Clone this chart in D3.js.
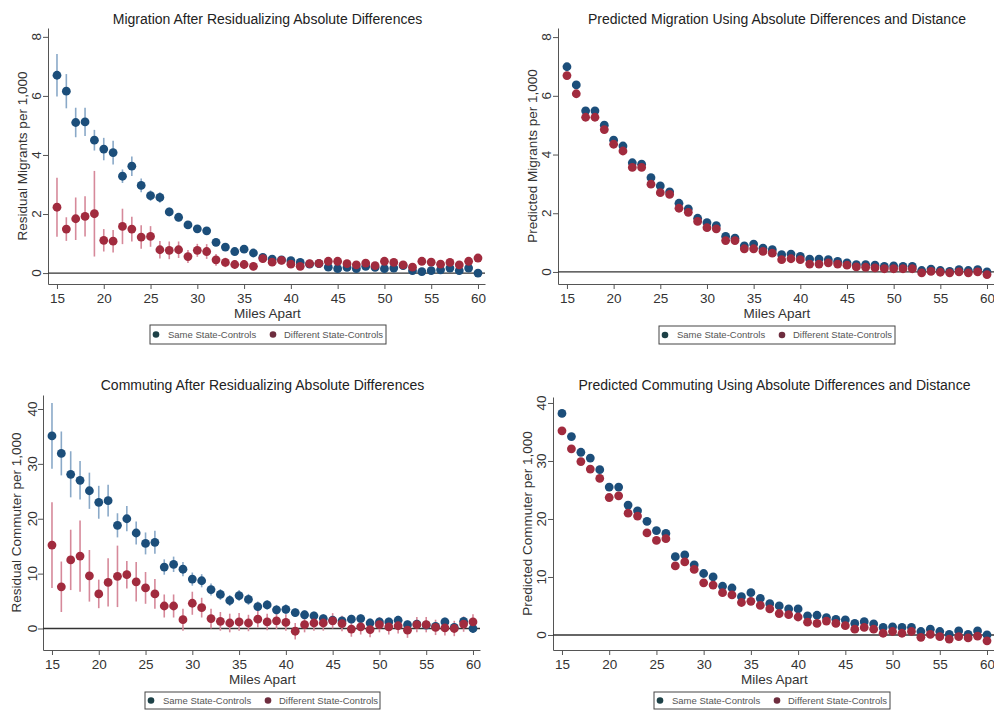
<!DOCTYPE html>
<html><head><meta charset="utf-8">
<script src="https://cdn.jsdelivr.net/npm/d3@7"></script>
<style>body{margin:0;background:#fff;} svg{display:block;font-family:"Liberation Sans",Arial,sans-serif;}</style>
</head><body><svg id="c" width="994" height="710"></svg>
<script>
const miles = [15,16,17,18,19,20,21,22,23,24,25,26,27,28,29,30,31,32,33,34,35,36,37,38,39,40,41,42,43,44,45,46,47,48,49,50,51,52,53,54,55,56,57,58,59,60];
const xTicks = [15,20,25,30,35,40,45,50,55,60];
const legendLabels = ["Same State-Controls","Different State-Controls"];
const titles = ["Migration After Residualizing Absolute Differences","Predicted Migration Using Absolute Differences and Distance","Commuting After Residualizing Absolute Differences","Predicted Commuting Using Absolute Differences and Distance"];
const yTitles = ["Residual Migrants per 1,000","Predicted Migrants per 1,000","Residual Commuter per 1,000","Predicted Commuter per 1,000"];
const xTitle = "Miles Apart";
const migTicks = [0,2,4,6,8];
const comTicks = [0,10,20,30,40];

const migSame = [6.70,6.16,5.10,5.12,4.50,4.20,4.08,3.28,3.62,2.97, 2.62,2.56,2.07,1.89,1.63,1.50,1.43,1.04,0.88,0.73, 0.81,0.68,0.53,0.47,0.45,0.42,0.36,0.30,0.32,0.20, 0.15,0.19,0.15,0.23,0.19,0.15,0.17,0.25,0.08,0.05, 0.08,0.11,0.17,0.08,0.17,0.00];
const migSameErr = [0.72,0.58,0.50,0.48,0.35,0.38,0.40,0.23,0.33,0.23, 0.18,0.18,0.15,0.14,0.13,0.12,0.13,0.10,0.10,0.09, 0.09,0.08,0.08,0.08,0.08,0.08,0.08,0.07,0.07,0.07, 0.07,0.07,0.07,0.07,0.07,0.07,0.07,0.07,0.07,0.07, 0.07,0.07,0.07,0.07,0.07,0.07];
const migDiff = [2.23,1.49,1.84,1.92,2.01,1.11,1.08,1.58,1.49,1.22, 1.24,0.79,0.77,0.79,0.56,0.77,0.73,0.45,0.36,0.29, 0.29,0.23,0.49,0.37,0.43,0.30,0.23,0.32,0.33,0.40, 0.40,0.32,0.28,0.34,0.25,0.40,0.36,0.28,0.20,0.40, 0.37,0.30,0.36,0.28,0.40,0.51];
const migDiffErr = [1.00,0.40,0.72,0.68,1.45,0.38,0.38,0.60,0.42,0.40, 0.35,0.30,0.30,0.28,0.22,0.22,0.25,0.20,0.16,0.15, 0.15,0.14,0.14,0.13,0.13,0.13,0.12,0.12,0.12,0.12, 0.12,0.12,0.12,0.12,0.12,0.12,0.12,0.12,0.12,0.12, 0.12,0.12,0.12,0.12,0.12,0.12];
const predMigSame = [6.99,6.37,5.49,5.49,5.00,4.49,4.29,3.72,3.67,3.21, 2.93,2.73,2.34,2.15,1.83,1.68,1.58,1.21,1.15,0.89, 0.95,0.81,0.76,0.59,0.61,0.53,0.44,0.44,0.42,0.36, 0.31,0.25,0.25,0.23,0.19,0.21,0.19,0.19,0.05,0.10, 0.05,0.02,0.08,0.05,0.08,0.00];
const predMigDiff = [6.69,6.07,5.27,5.27,4.85,4.35,4.12,3.56,3.56,2.99, 2.70,2.64,2.17,2.03,1.72,1.51,1.47,1.07,1.07,0.79, 0.79,0.70,0.64,0.42,0.45,0.42,0.27,0.27,0.31,0.27, 0.23,0.17,0.16,0.14,0.11,0.11,0.11,0.11,-0.03,0.02, -0.01,-0.03,0.00,-0.03,0.00,-0.09];
const comSame = [35.1,31.9,28.1,27.0,25.1,23.0,23.3,18.8,20.0,17.4, 15.5,15.7,11.2,11.7,10.8,9.0,8.7,7.1,6.2,5.1, 6.0,5.3,4.0,4.3,3.4,3.5,2.9,2.5,2.3,1.8, 1.5,1.4,1.7,1.8,1.0,1.2,1.2,1.5,0.7,0.8, 0.6,0.4,1.2,0.2,1.3,0.0];
const comSameErr = [6.0,4.0,4.2,3.5,3.3,3.0,2.9,2.2,2.3,2.1, 2.0,2.1,1.4,1.4,1.3,1.2,1.2,1.1,1.0,1.0, 1.0,1.0,0.9,0.9,0.9,0.9,0.8,0.8,0.8,0.8, 0.8,0.8,0.8,0.8,0.8,0.8,0.8,0.8,0.8,0.8, 0.8,0.8,0.8,0.8,0.8,0.8];
const comDiff = [15.2,7.6,12.5,13.2,9.6,6.3,8.4,9.5,9.8,8.5, 7.4,6.3,4.1,4.1,1.6,4.6,3.8,1.8,1.3,1.0, 1.2,1.0,1.7,1.2,1.4,1.1,-0.5,0.7,1.0,1.0, 1.4,0.9,-0.1,0.3,-0.2,0.7,0.3,0.5,-0.3,0.7, 0.7,0.2,0.1,0.0,0.8,1.2];
const comDiffErr = [7.8,4.6,5.5,6.5,4.7,2.6,4.4,5.6,2.5,3.6, 2.9,2.7,2.1,2.1,2.0,2.1,1.8,1.8,1.7,1.7, 1.6,1.5,1.5,1.5,1.5,1.5,1.5,1.4,1.4,1.4, 1.4,1.4,1.4,1.4,1.4,1.4,1.4,1.4,1.4,1.4, 1.4,1.4,1.4,1.4,1.4,1.4];
const predComSame = [38.2,34.2,31.5,30.5,28.5,25.5,25.5,22.4,21.4,19.6, 18.0,17.5,13.5,13.8,12.1,10.6,10.0,8.4,8.1,6.6, 7.3,6.3,5.4,5.0,4.5,4.5,3.3,3.4,3.0,2.7, 2.6,2.0,2.3,1.9,1.3,1.4,1.3,1.3,0.6,1.0, 0.6,0.1,0.7,0.1,0.7,0.0];
const predComDiff = [35.2,32.1,29.9,28.6,27.0,23.7,24.0,21.0,20.5,17.6, 16.3,16.6,11.9,12.6,11.3,9.0,8.6,7.3,6.9,5.6, 5.8,5.1,4.5,3.7,3.5,3.1,2.2,2.0,2.4,2.0, 1.6,1.0,1.3,1.0,0.3,0.6,0.3,0.6,-0.4,0.1, -0.3,-0.7,-0.3,-0.5,-0.2,-1.0];

const BLUE = "#1c4e7a", RED = "#a12b3e";
const BLUE_BAR = "#8aa9c8", RED_BAR = "#d6899a";
const LEG_BLUE = "#1d4147", LEG_RED = "#6e2d3e";

const panels = [
  {title:titles[0], yTitle:yTitles[0], ticks:migTicks, same:migSame, diff:migDiff, sErr:migSameErr, dErr:migDiffErr,
   xr:[48,485], xd:[14.04,60.75], yr:[284,28], yd:[-0.37,8.3], titleY:24, yTitleX:22, tickLabX:36, leg:[150,325,236,19]},
  {title:titles[1], yTitle:yTitles[1], ticks:migTicks, same:predMigSame, diff:predMigDiff,
   xr:[558,994], xd:[14.04,60.75], yr:[284,28], yd:[-0.41,8.31], titleY:24, yTitleX:532, tickLabX:546, leg:[659,326,236,18]},
  {title:titles[2], yTitle:yTitles[2], ticks:comTicks, same:comSame, diff:comDiff, sErr:comSameErr, dErr:comDiffErr,
   xr:[43,480], xd:[14.04,60.75], yr:[650,395], yd:[-3.92,42.55], titleY:390, yTitleX:16, tickLabX:32, leg:[145,692,235,17]},
  {title:titles[3], yTitle:yTitles[3], ticks:comTicks, same:predComSame, diff:predComDiff,
   xr:[553,994], xd:[14.05,60.74], yr:[650,397], yd:[-2.59,41.03], titleY:390, yTitleX:527, tickLabX:541, leg:[654,692,236,17]}
];

const svg = d3.select("#c");
const AX = "#555";

panels.forEach(p => {
  const g = svg.append("g");
  const x = d3.scaleLinear().domain(p.xd).range(p.xr);
  const y = d3.scaleLinear().domain(p.yd).range(p.yr);
  const midX = (x(15)+x(60))/2;

  g.append("text").attr("x", midX).attr("y", p.titleY).attr("text-anchor","middle")
    .attr("font-size","14px").attr("fill","#222").text(p.title);

  const xa = g.append("g").attr("transform",`translate(0,${p.yr[0]})`)
    .call(d3.axisBottom(x).tickValues(xTicks).tickSize(5).tickPadding(4).tickSizeOuter(0));
  xa.select(".domain").attr("stroke",AX);
  xa.selectAll(".tick line").attr("stroke",AX);
  xa.selectAll("text").attr("font-size","13.5px").attr("fill","#333").attr("font-family","Liberation Sans, Arial, sans-serif");
  g.append("text").attr("x", midX).attr("y", p.yr[0]+34).attr("text-anchor","middle")
    .attr("font-size","13.5px").attr("fill","#333").text(xTitle);

  const ya = g.append("g").attr("transform",`translate(${p.xr[0]},0)`)
    .call(d3.axisLeft(y).tickValues(p.ticks).tickSize(5).tickSizeOuter(0));
  ya.select(".domain").attr("stroke",AX);
  ya.selectAll(".tick line").attr("stroke",AX);
  ya.selectAll(".tick text").remove();
  p.ticks.forEach(t => {
    g.append("text").attr("transform",`translate(${p.tickLabX},${y(t)}) rotate(-90)`)
      .attr("text-anchor","middle").attr("dy","0.35em").attr("font-size","13.5px").attr("fill","#333").text(t);
  });
  g.append("text").attr("transform",`translate(${p.yTitleX},${(p.yr[0]+p.yr[1])/2}) rotate(-90)`)
    .attr("text-anchor","middle").attr("dy","0.35em").attr("font-size","13.5px").attr("fill","#333").text(p.yTitle);

  g.append("line").attr("x1",p.xr[0]).attr("x2",p.xr[1]).attr("y1",y(0)).attr("y2",y(0))
    .attr("stroke","#333").attr("stroke-width",1.3);

  if (p.sErr) {
    g.append("g").selectAll("line").data(miles).join("line")
      .attr("x1",d=>x(d)).attr("x2",d=>x(d))
      .attr("y1",(d,i)=>y(p.same[i]-p.sErr[i])).attr("y2",(d,i)=>y(p.same[i]+p.sErr[i]))
      .attr("stroke",BLUE_BAR).attr("stroke-width",1.6);
    g.append("g").selectAll("line").data(miles).join("line")
      .attr("x1",d=>x(d)).attr("x2",d=>x(d))
      .attr("y1",(d,i)=>y(p.diff[i]-p.dErr[i])).attr("y2",(d,i)=>y(p.diff[i]+p.dErr[i]))
      .attr("stroke",RED_BAR).attr("stroke-width",1.6);
  }
  g.append("g").selectAll("circle").data(miles).join("circle")
    .attr("cx",d=>x(d)).attr("cy",(d,i)=>y(p.same[i])).attr("r",4.4).attr("fill",BLUE);
  g.append("g").selectAll("circle").data(miles).join("circle")
    .attr("cx",d=>x(d)).attr("cy",(d,i)=>y(p.diff[i])).attr("r",4.4).attr("fill",RED);

  const [lx,ly,lw,lh] = p.leg;
  const lg = g.append("g");
  lg.append("rect").attr("x",lx).attr("y",ly).attr("width",lw).attr("height",lh)
    .attr("fill","#fff").attr("stroke","#444").attr("stroke-width",1);
  const cy = ly+lh/2;
  lg.append("circle").attr("cx",lx+6).attr("cy",cy).attr("r",3.3).attr("fill",LEG_BLUE);
  lg.append("text").attr("x",lx+18).attr("y",cy).attr("dy","0.35em").attr("font-size","9.5px").attr("fill","#555").text(legendLabels[0]);
  lg.append("circle").attr("cx",lx+123).attr("cy",cy).attr("r",3.3).attr("fill",LEG_RED);
  lg.append("text").attr("x",lx+134).attr("y",cy).attr("dy","0.35em").attr("font-size","9.5px").attr("fill","#555").text(legendLabels[1]);
});
</script></body></html>
